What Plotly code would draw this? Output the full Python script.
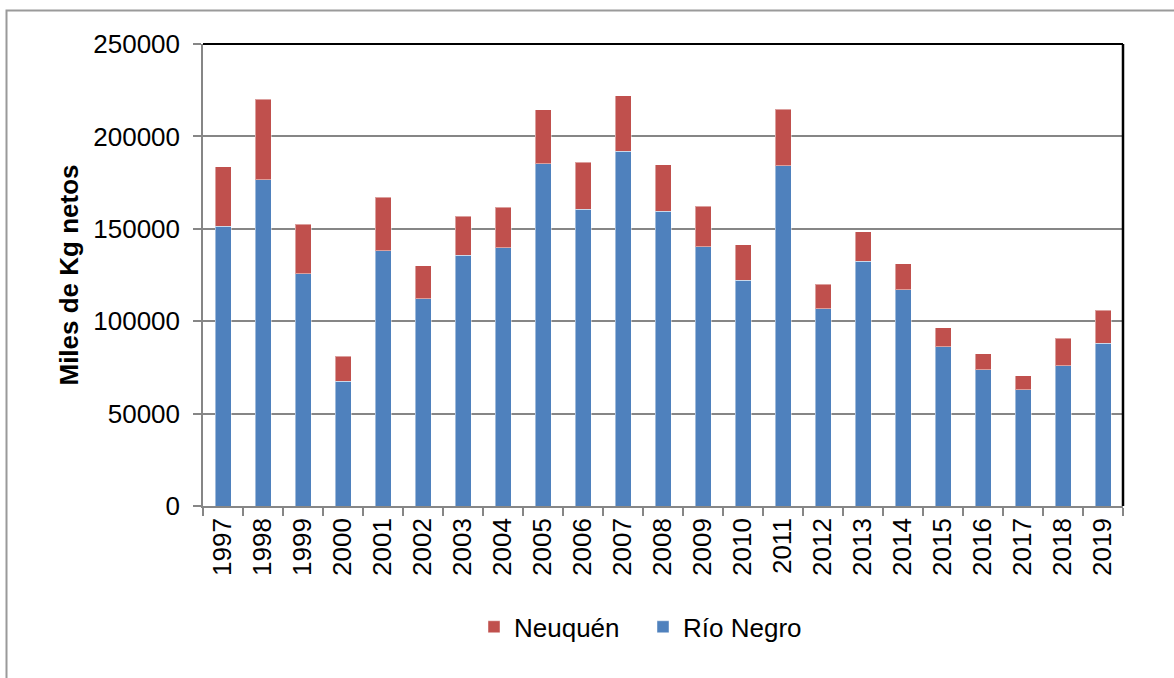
import plotly.graph_objects as go

# Producción anual (miles de kg netos) por provincia
years = [str(y) for y in range(1997, 2020)]
rio_negro = [151500, 176600, 125800, 67400, 138000, 112200, 135700, 139800,
             185200, 160700, 191900, 159600, 140200, 122200, 184100, 106800,
             132400, 116900, 86100, 73700, 62900, 76000, 88100]
neuquen = [32100, 43500, 26600, 13700, 29200, 17700, 21200, 21800,
           29200, 25200, 30100, 25100, 22100, 19100, 30700, 13200,
           16100, 14300, 10300, 8800, 7500, 14800, 17800]
y_ticks = [0, 50000, 100000, 150000, 200000, 250000]

BLUE = "#4F81BD"
RED = "#C0504D"
GRID = "#868686"
FONT = "Liberation Sans, Arial, sans-serif"
FS = 26

fig = go.Figure()
fig.add_trace(go.Bar(
    x=years, y=rio_negro, name="Río Negro",
    marker=dict(color=BLUE, line=dict(color="rgba(255,255,255,0.45)", width=1)),
))
fig.add_trace(go.Bar(
    x=years, y=neuquen, name="Neuquén",
    marker=dict(color=RED, line=dict(color="rgba(255,255,255,0.45)", width=1)),
))

# plot-area geometry in pixels
L, R, T, B = 203, 1123, 43.5, 506
W, H = R - L, B - T


def px(x):
    return (x - L) / W


def py(y):
    return (B - y) / H


fig.update_layout(
    width=1174, height=678,
    barmode="stack", bargap=0.6,
    paper_bgcolor="white", plot_bgcolor="white",
    margin=dict(l=L, r=1174 - R, t=T, b=678 - B, autoexpand=False),
    font=dict(family=FONT, size=FS, color="black"),
    showlegend=True,
    legend=dict(
        orientation="h", traceorder="reversed",
        x=px(474), xanchor="left", y=py(627), yanchor="middle",
        font=dict(size=FS), itemwidth=30, entrywidth=124, entrywidthmode="pixels",
        bgcolor="rgba(0,0,0,0)",
    ),
    xaxis=dict(
        type="category", tickangle=-90, tickson="boundaries",
        ticks="outside", ticklen=8, tickcolor=GRID, tickwidth=1.5,
        showline=True, linecolor=GRID, linewidth=1.5,
        showgrid=False, tickfont=dict(size=FS), automargin=False,
    ),
    yaxis=dict(
        range=[0, 250000], tickvals=y_ticks,
        ticktext=[str(v) for v in y_ticks],
        ticks="outside", ticklen=8, tickcolor=GRID, tickwidth=1.5,
        ticklabelstandoff=8,
        showline=True, linecolor=GRID, linewidth=1.5,
        showgrid=True, gridcolor=GRID, gridwidth=1.5, zeroline=False,
        tickfont=dict(size=FS), automargin=False,
        title=dict(text="<b>Miles de Kg netos</b>", font=dict(size=FS), standoff=7),
    ),
    shapes=[
        # plot-area frame (top and right edges)
        dict(type="line", xref="paper", yref="paper", x0=0, x1=1, y0=1, y1=1,
             line=dict(color="black", width=2)),
        dict(type="line", xref="paper", yref="paper", x0=1, x1=1, y0=0, y1=1,
             line=dict(color="black", width=2.5)),
        # chart-area border
        dict(type="rect", xref="paper", yref="paper",
             x0=px(6.5), x1=px(1190), y0=py(10), y1=py(700),
             line=dict(color="#9a9a9a", width=2), layer="below"),
    ],
)

fig.write_html("out.html")
